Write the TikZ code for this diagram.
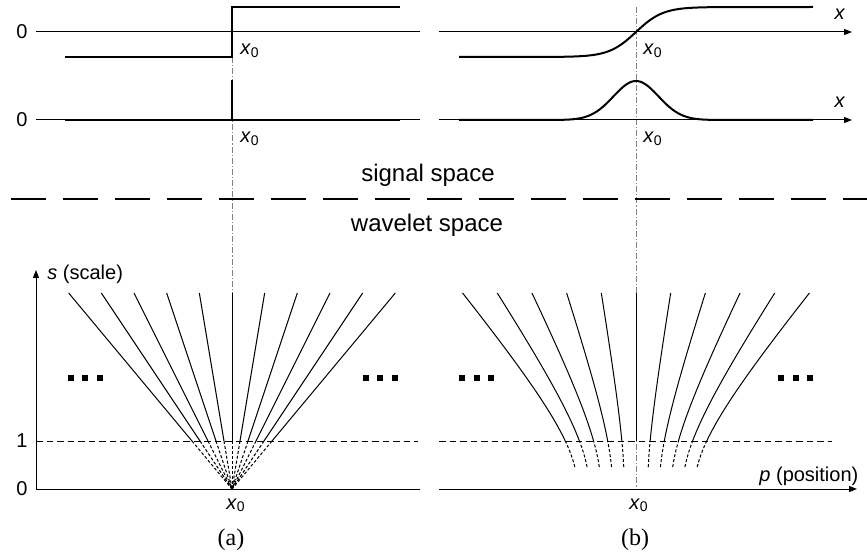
\documentclass[tikz,border=0pt]{standalone}
\usepackage{fontspec}
\setmainfont{Liberation Sans}
\newfontfamily\serifrm{Liberation Serif}
\usetikzlibrary{arrows.meta}
\newcommand\xsub{\textit{x}\textsubscript{0}}
\begin{document}
\begin{tikzpicture}[x=0.5pt,y=-0.5pt,
  thinax/.style={line width=0.5pt},
  sig/.style={line width=1pt},
  guide/.style={draw=gray, line width=0.5pt, dash pattern=on 3pt off 1pt on 0.6pt off 1pt},
  lvl/.style={line width=0.5pt, dash pattern=on 3.25pt off 2pt},
  fan/.style={line width=0.5pt},
  fandash/.style={line width=0.5pt, dash pattern=on 1.5pt off 1pt},
  axarrow/.style={-{Triangle[length=4pt,width=3pt]}},
  lbl/.style={font=\fontsize{10}{12}\selectfont, inner sep=0pt},
  big/.style={font=\fontsize{12}{14}\selectfont, inner sep=0pt},
  capt/.style={font=\serifrm\fontsize{12}{14}\selectfont, inner sep=0pt},
  sep/.style={line width=1pt, dash pattern=on 17.5pt off 8.5pt}
]
\useasboundingbox (0,0) rectangle (867,555);

% guide lines through x0
\draw[guide] (232,57) -- (232,293);
\draw[guide] (636,7) -- (636,489);

% top left: step and its derivative
\draw[thinax] (36,32) -- (420,32);
\draw[thinax] (36,120) -- (420,120);
\draw[sig] (65,57) -- (232,57) -- (232,7) -- (400,7);
\draw[sig] (65,120) -- (400,120);
\draw[sig] (232,120) -- (232,80);

% top right: smooth edge and its derivative
\draw[thinax, axarrow] (439,32) -- (852,32);
\draw[thinax, axarrow] (439,120) -- (852,120);
\draw[sig] (459,57) -- plot[domain=560:712, samples=100] (\x, {32-25*tanh((\x-636)/27)}) -- (813,7);
\draw[sig] (459,120) -- plot[domain=545:727, samples=100] (\x, {120-39*exp(-0.5*((\x-636)/22.5)^2)}) -- (813,120);

% labels top
\node[lbl] (z1) at (22,32) {0};
\node[lbl] (z2) at (22,120) {0};
\node[lbl, anchor=base west] (xa) at (240,55) {\xsub};
\node[lbl, anchor=base west] (xb) at (240,143) {\xsub};
\node[lbl, anchor=base west] (xc) at (643,55) {\xsub};
\node[lbl, anchor=base west] (xd) at (643,143) {\xsub};
\node[lbl, anchor=base] (ax1) at (840,20) {\textit{x}};
\node[lbl, anchor=base] (ax2) at (840,108) {\textit{x}};

% separator
\node[big, anchor=base] (sigsp) at (428,182) {signal space};
\draw[sep] (11,199) -- (867,199);
\node[big, anchor=base] (wavsp) at (427,232) {wavelet space};

% bottom left
\draw[thinax, axarrow] (36,489) -- (36,270);
\draw[thinax] (36,489) -- (420,489);
\draw[lvl] (36,441) -- (418,441);
\foreach \i in {-5,...,5}{
  \draw[fan] ({232+\i*196/6},293) -- ({232+\i*48/6},441);
  \draw[fandash] ({232+\i*48/6},441) -- (232,489);
}
\node[lbl] (one) at (22,441) {1};
\node[lbl] (z3) at (22,489) {0};
\node[lbl, anchor=base west] (slab) at (47,280) {\textit{s} (scale)};
\node[lbl, anchor=base] (xe) at (236,509) {\xsub};
\node[capt, anchor=base] (capa) at (231,545) {(a)};

% bottom right
\draw[thinax, axarrow] (439,489) -- (857,489);
\draw[lvl] (439,441) -- (832,441);
\foreach \i in {-5,-4,-3,-2,-1,1,2,3,4,5}{
  \draw[fan] plot[domain=4.8:19.6, samples=40] ({636+\i/6*10*sqrt(\x*\x+49)}, {489-10*\x});
  \draw[fandash] plot[domain=2.2:4.8, samples=12] ({636+\i/6*10*sqrt(\x*\x+49)}, {489-10*\x});
}
\draw[fan] (636,293) -- (636,441);
\node[lbl, anchor=base west] (plab) at (759,481) {\textit{p} (position)};
\node[lbl, anchor=base] (xf) at (639,509) {\xsub};
\node[capt, anchor=base] (capb) at (635,545) {(b)};

% ellipsis squares
\foreach \c in {71,85,100,366,380,395,462,477,491,781,796,810}{
  \fill ({\c-3},375) rectangle ({\c+3},381);
}
\end{tikzpicture}
\end{document}
